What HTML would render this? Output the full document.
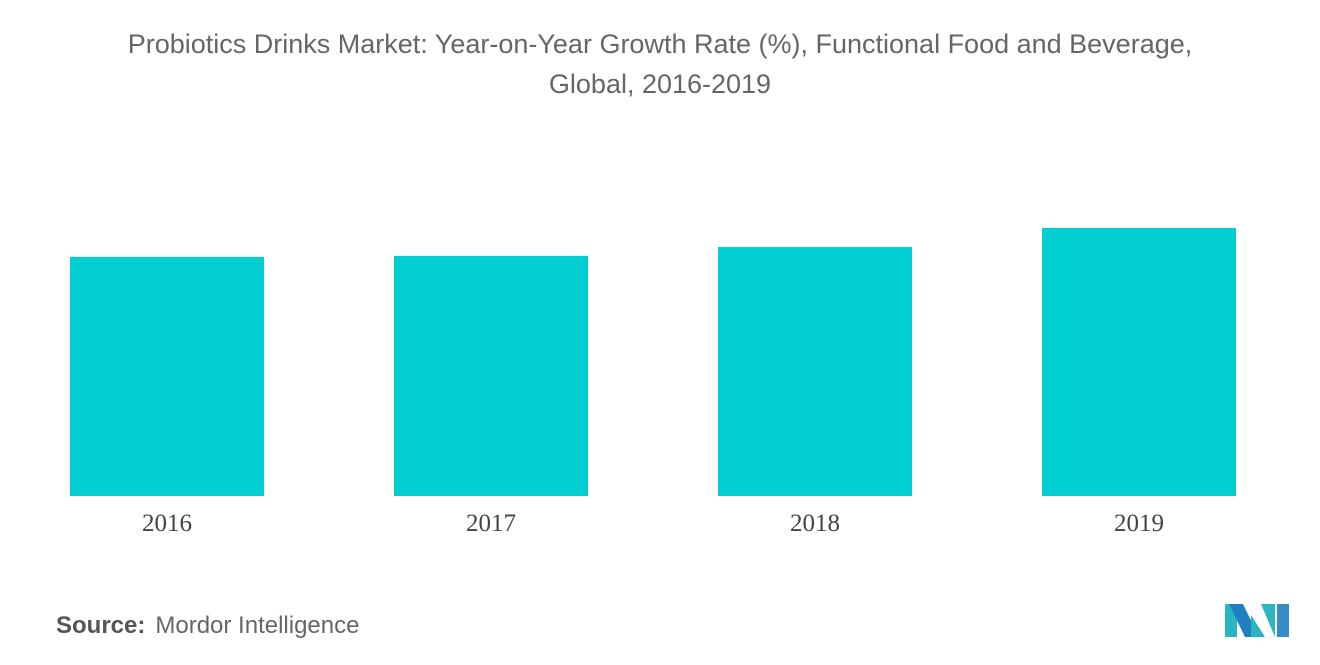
<!DOCTYPE html>
<html><head><meta charset="utf-8"><style>
body{margin:0;width:1320px;height:665px;background:#fff;font-family:"Liberation Sans",sans-serif;overflow:hidden;position:relative}
.title{position:absolute;left:0;top:24px;width:1320px;text-align:center;font-size:27px;line-height:40px;color:#666}
.src{position:absolute;left:56px;top:612px;font-size:24px;color:#666}
.src b{color:#555;font-weight:bold;margin-right:10px}
</style></head><body>
<div class="title">Probiotics Drinks Market: Year-on-Year Growth Rate (%), Functional Food and Beverage,<br>Global, 2016-2019</div>
<svg id="chart" width="1320" height="665" style="position:absolute;left:0;top:0"></svg>
<div class="src"><b>Source:</b>Mordor Intelligence</div>
<svg width="70" height="40" style="position:absolute;left:1223px;top:601px" viewBox="0 0 70 40">
<polygon points="2,3 14,3 14,36 2,36" fill="#2bb5c4"/>
<polygon points="6,3 20,3 36,36 22,36" fill="#1f7fc0"/>
<polygon points="28,14 42,36 28,36" fill="#2bb5c4"/>
<polygon points="38,3 52,3 52,36" fill="#2bb5c4"/>
<polygon points="54,3 66,3 66,36 54,36" fill="#1f7fc0" opacity="0.9"/>
</svg>
<script>
const categories=["2016","2017","2018","2019"];
const values=[8.92,8.96,9.29,10.0];
const svg=document.getElementById('chart');
const NS='http://www.w3.org/2000/svg';
const baseY=496, scale=26.8, x0=70, step=324, bw=194;
function yPos(v){return baseY-v*scale;}
function xPos(i){return x0+i*step;}
categories.forEach((c,i)=>{
  const r=document.createElementNS(NS,'rect');
  r.setAttribute('x',xPos(i));r.setAttribute('y',yPos(values[i]));
  r.setAttribute('width',bw);r.setAttribute('height',baseY-yPos(values[i]));
  r.setAttribute('fill','#00ced1');
  
  
  svg.appendChild(r);
  const t=document.createElementNS(NS,'text');
  t.setAttribute('x',xPos(i)+bw/2);t.setAttribute('y',531);
  t.setAttribute('text-anchor','middle');t.setAttribute('font-size','25');
  t.setAttribute('fill','#444');t.setAttribute('font-family','Liberation Serif, serif');
  t.textContent=c;
  
  
  svg.appendChild(t);
});
</script>
</body></html>
